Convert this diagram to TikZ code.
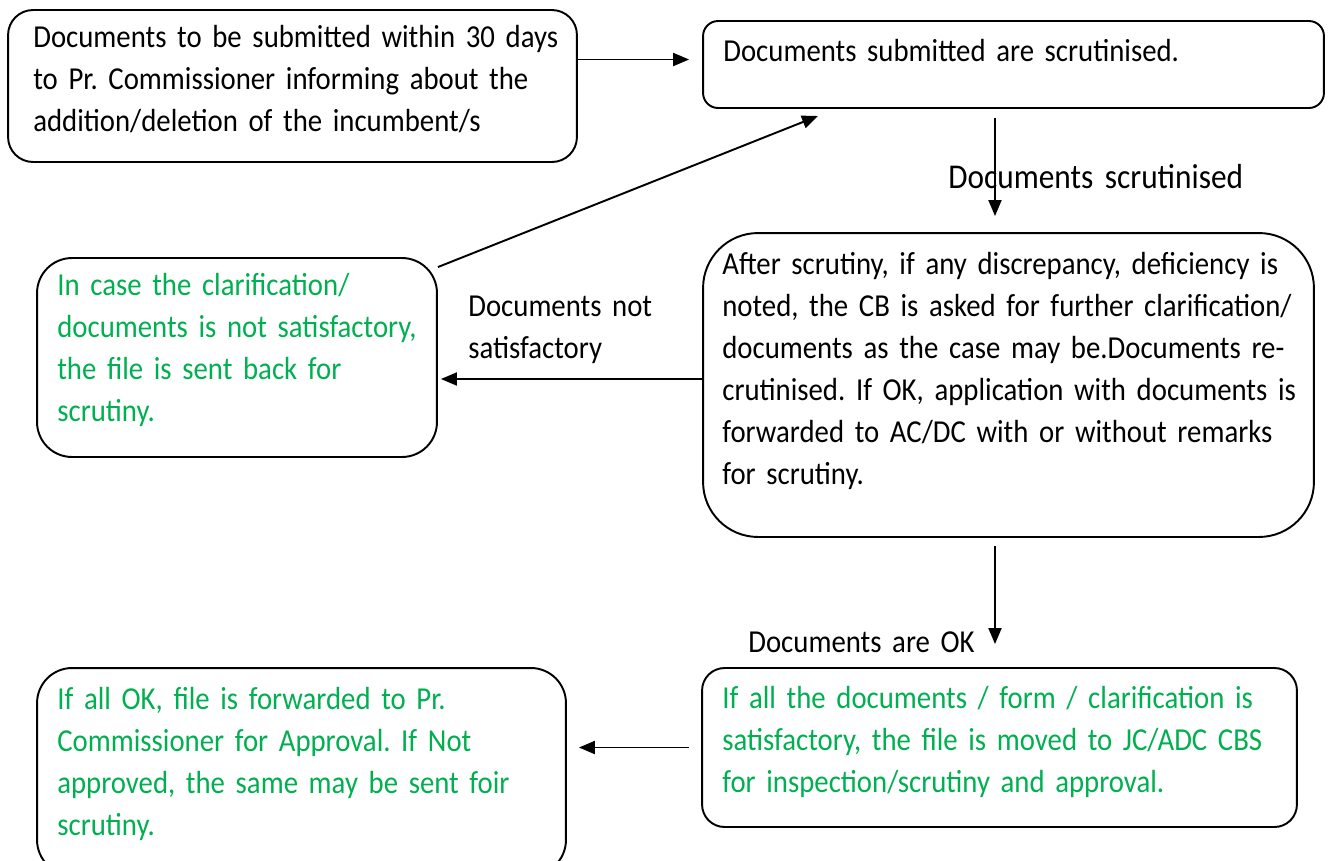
\documentclass[tikz,border=0pt]{standalone}
\usepackage{fontspec}
\setmainfont[FakeStretch=0.9]{Carlito}
\frenchspacing
\usetikzlibrary{arrows.meta}
\newcommand\flowfont{\fontsize{18.2}{24}\selectfont\spaceskip=0.14em plus 0.05em\relax}
\newcommand\flowbigfont{\fontsize{19.8}{24}\selectfont\spaceskip=0.14em plus 0.05em\relax}

\begin{document}
\begin{tikzpicture}[x=0.02cm, y=-0.02cm,
    box/.style={draw, line width=1.1pt, inner sep=0pt},
    txt/.style={anchor=base west, align=left, text width=12.5cm, inner sep=0pt, font=\flowfont},
    arr/.style={-{Triangle[length=0.32cm,width=0.26cm]}, line width=1.1pt}]
    \definecolor{mygreen}{RGB}{0,176,80}

    \clip (0,0) rectangle (1329,860);

    % boxes
    \node[box, rounded corners=0.5cm, minimum width=11.38cm, minimum height=3.04cm] (submit) at (292.5,86) {};
    \node[box, rounded corners=0.3cm, minimum width=12.42cm, minimum height=1.74cm] (scrut) at (1013.5,64.5) {};
    \node[box, rounded corners=0.7cm, minimum width=8cm, minimum height=3.98cm] (back) at (237,357.5) {};
    \node[box, rounded corners=1.1cm, minimum width=12.22cm, minimum height=6.08cm] (after) at (1008.5,385) {};
    \node[box, rounded corners=0.45cm, minimum width=11.9cm, minimum height=3.18cm] (moved) at (999.5,747.5) {};
    \node[box, rounded corners=0.7cm, minimum width=10.58cm, minimum height=4.14cm] (approve) at (301.5,771.5) {};

    % texts
    \node[txt] (submit-t) at (33,47) {Documents to be submitted within 30 days\\to Pr. Commissioner informing about the\\addition/deletion of the incumbent/s};
    \node[txt] (scrut-t) at (723,61) {Documents submitted are scrutinised.};
    \node[txt, mygreen] (back-t) at (57,295) {In case the clarification/\\documents is not satisfactory,\\the file is sent back for\\scrutiny.};
    \node[txt] (after-t) at (722,274) {After scrutiny, if any discrepancy, deficiency is\\noted, the CB is asked for further clarification/\\documents as the case may be.Documents re-\\crutinised. If OK, application with documents is\\forwarded to AC/DC with or without remarks\\for scrutiny.};
    \node[txt, mygreen] (moved-t) at (722,708) {If all the documents / form / clarification is\\satisfactory, the file is moved to JC/ADC CBS\\for inspection/scrutiny and approval.};
    \node[txt, mygreen] (approve-t) at (57,709) {If all OK, file is forwarded to Pr.\\Commissioner for Approval. If Not\\approved, the same may be sent foir\\scrutiny.};

    % connector labels
    \node[txt, text width=4cm] (notok) at (468,316) {Documents not\\satisfactory};
    \node[txt, text width=7cm, font=\flowbigfont] (scrutd) at (948,188) {Documents scrutinised};
    \node[txt, text width=5cm] (ok) at (748,652) {Documents are OK};

    % connectors
    \coordinate (col) at (995,0);
    \coordinate (backin) at (818,116);
    \draw[arr, shorten >=0.26cm] ([yshift=0.1cm]submit.east |- scrut.west) -- ([yshift=0.1cm]scrut.west);
    \draw[arr] ([yshift=-0.2cm]back.north east) -- (backin);
    \draw[arr, shorten <=0.18cm, shorten >=0.32cm] (scrut.south -| col) -- (after.north -| col);
    \draw[arr, shorten >=0.06cm] ([yshift=0.12cm]after.west) -- ([yshift=0.12cm]after.west -| back.east);
    \draw[arr, shorten <=0.16cm, shorten >=0.46cm] (after.south -| col) -- (moved.north -| col);
    \draw[arr, shorten <=0.24cm, shorten >=0.24cm] (moved.west) -- (moved.west -| approve.east);
\end{tikzpicture}
\end{document}
